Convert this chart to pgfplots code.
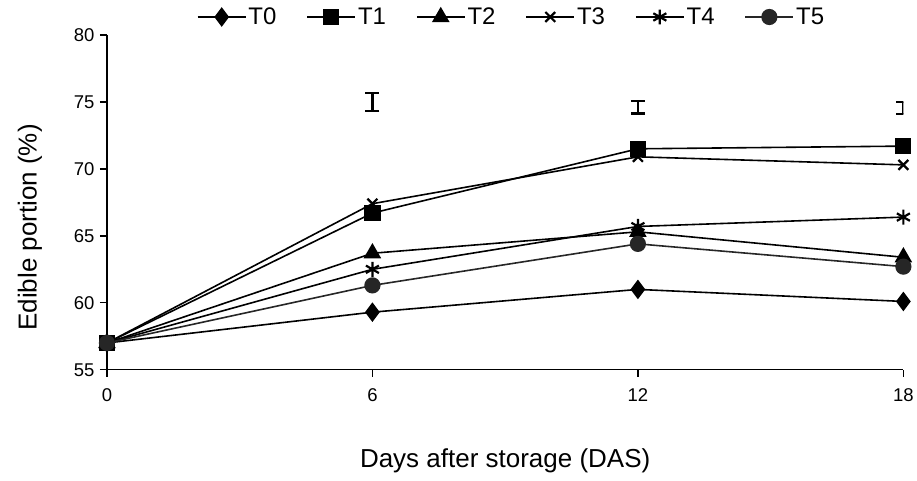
\documentclass[border=0pt]{standalone}
\usepackage{fontspec}
\setmainfont{Liberation Sans}
\usepackage{pgfplots}
\pgfplotsset{compat=1.18}

\begin{document}
\begin{tikzpicture}
    \begin{axis}[
        scale only axis,
        width            = 797pt,
        height           = 335pt,
        xmin             = 0,
        xmax             = 18,
        ymin             = 55,
        ymax             = 80,
        xtick            = {0, 6, 12, 18},
        ytick            = {55, 60, ..., 80},
        axis x line*     = bottom,
        axis y line*     = left,
        axis line style  = {line width = 1.4pt, -},
        tick style       = {line width = 1.4pt, black},
        tick align       = outside,
        major tick length = 7pt,
        /pgf/number format/assume math mode = true,
        ticklabel style  = {font = \fontsize{18.5}{20}\selectfont},
        xticklabel style = {yshift = -8pt},
        yticklabel style = {xshift = -2pt},
        xlabel           = {Days after storage (DAS)},
        ylabel           = {Edible portion (\%)},
        label style      = {font = \fontsize{26}{28}\selectfont},
        xlabel style     = {at = {(axis description cs:0.5,-0.2716)}, anchor = center},
        ylabel style     = {at = {(axis description cs:-0.0966,0.425)}, anchor = center},
        legend columns   = 6,
        legend style     = {draw = none, fill = none, font = \fontsize{24}{26}\selectfont,
                            at = {(axis description cs:0.508,1.0537)}, anchor = center,
                            /tikz/every even column/.append style = {column sep = 28pt}},
        legend image code/.code = {
            \draw[mark repeat = 2, mark phase = 2] plot coordinates {(0pt,0pt) (24pt,0pt) (48pt,0pt)};
        },
        every axis plot/.append style = {line width = 1.6pt, black,
                                         mark options = {line width = 2.2pt, solid}},
    ]

        % T0
        \addplot[mark = diamond*, mark size = 8pt]
            coordinates {(0, 57.0) (6, 59.3) (12, 61.0) (18, 60.1)};
        % T1
        \addplot[mark = square*, mark size = 7pt]
            coordinates {(0, 57.0) (6, 66.7) (12, 71.5) (18, 71.7)};
        % T2
        \addplot[mark = triangle*, mark size = 8pt]
            coordinates {(0, 57.0) (6, 63.7) (12, 65.3) (18, 63.4)};
        % T3
        \addplot[mark = x, mark size = 7pt]
            coordinates {(0, 57.0) (6, 67.4) (12, 70.9) (18, 70.3)};
        % T4
        \addplot[mark = asterisk, mark size = 7.5pt]
            coordinates {(0, 57.0) (6, 62.5) (12, 65.7) (18, 66.4)};
        % T5
        \addplot[black!85, mark = *, mark size = 7pt]
            coordinates {(0, 57.0) (6, 61.3) (12, 64.4) (18, 62.7)};

        % LSD bars
        \addplot[draw = none, mark = none, forget plot,
                 error bars/.cd, y dir = both, y explicit,
                 error bar style = {draw = black, line width = 2.2pt, solid},
                 error mark options = {rotate = 90, mark size = 7pt, line width = 2.2pt, draw = black}]
            coordinates {
                (6, 75.0)   +- (0, 0.65)
                (12, 74.6)  +- (0, 0.47)
                (18, 74.55) +- (0, 0.45)
            };

        \legend{T0, T1, T2, T3, T4, T5}
    \end{axis}
    \path ([xshift=-107pt, yshift=-111pt]current axis.south west)
        rectangle ([xshift=13pt, yshift=35pt]current axis.north east);
\end{tikzpicture}
\end{document}
